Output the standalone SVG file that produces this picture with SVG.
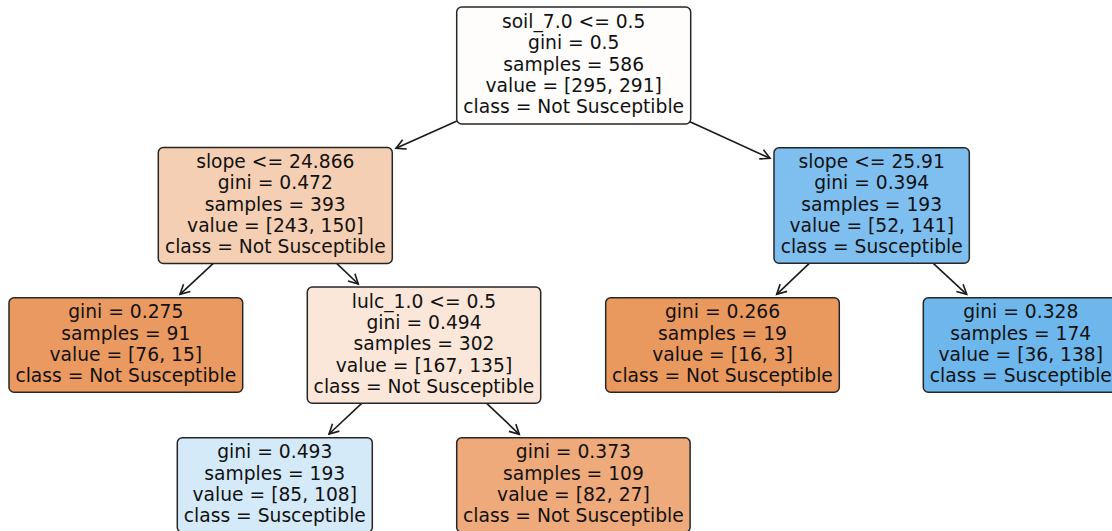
<svg xmlns="http://www.w3.org/2000/svg" width="1112" height="531" viewBox="0 0 1112 531">
<style>
.box{stroke:#262626;stroke-width:1.5}
text{font-family:"DejaVu Sans","Liberation Sans",sans-serif;font-size:18.7px;fill:#111111;text-anchor:middle}
.edge{stroke:#1a1a1a;stroke-width:1.6;fill:none}
</style>
<defs>
<marker id="ah" markerUnits="userSpaceOnUse" markerWidth="14" markerHeight="14" refX="11" refY="6" orient="auto" viewBox="0 0 14 12">
<path d="M1.5,1 L11,6 L1.5,11" fill="none" stroke="#1a1a1a" stroke-width="1.6"/>
</marker>
</defs>
<rect width="1112" height="531" fill="#ffffff"/>
<g id="connectors">
<line class="edge" x1="457" y1="121" x2="396" y2="148.3" marker-end="url(#ah)"/>
<line class="edge" x1="690" y1="121.7" x2="770" y2="158.3" marker-end="url(#ah)"/>
<line class="edge" x1="213.3" y1="263.3" x2="180" y2="294.3" marker-end="url(#ah)"/>
<line class="edge" x1="336.7" y1="263.3" x2="358.3" y2="284" marker-end="url(#ah)"/>
<line class="edge" x1="361.7" y1="403.3" x2="329" y2="434" marker-end="url(#ah)"/>
<line class="edge" x1="486.7" y1="403.3" x2="519.3" y2="434.3" marker-end="url(#ah)"/>
<line class="edge" x1="809.3" y1="263.3" x2="776.7" y2="294.3" marker-end="url(#ah)"/>
<line class="edge" x1="933.3" y1="263.3" x2="966.7" y2="294.3" marker-end="url(#ah)"/>
</g>
<g id="node-root">
<rect class="box" x="456.7" y="7" width="234" height="117" rx="5" fill="#fefdfc"/>
<text x="573.7" y="28">soil_7.0 &lt;= 0.5</text>
<text x="573.7" y="49.4">gini = 0.5</text>
<text x="573.7" y="70.7">samples = 586</text>
<text x="573.7" y="92.1">value = [295, 291]</text>
<text x="573.7" y="113.4">class = Not Susceptible</text>
</g>
<g id="node-slope-left">
<rect class="box" x="158.3" y="147.5" width="234" height="116" rx="5" fill="#f5cfb3"/>
<text x="275.3" y="168">slope &lt;= 24.866</text>
<text x="275.3" y="189.4">gini = 0.472</text>
<text x="275.3" y="210.7">samples = 393</text>
<text x="275.3" y="232.1">value = [243, 150]</text>
<text x="275.3" y="253.4">class = Not Susceptible</text>
</g>
<g id="node-slope-right">
<rect class="box" x="774" y="147.7" width="195.3" height="115.6" rx="5" fill="#7fbfef"/>
<text x="871.7" y="168">slope &lt;= 25.91</text>
<text x="871.7" y="189.4">gini = 0.394</text>
<text x="871.7" y="210.7">samples = 193</text>
<text x="871.7" y="232.1">value = [52, 141]</text>
<text x="871.7" y="253.4">class = Susceptible</text>
</g>
<g id="node-leaf-91">
<rect class="box" x="9" y="297.7" width="233.7" height="94.6" rx="5" fill="#ea9a60"/>
<text x="125.8" y="318.4">gini = 0.275</text>
<text x="125.8" y="339.7">samples = 91</text>
<text x="125.8" y="361.1">value = [76, 15]</text>
<text x="125.8" y="382.4">class = Not Susceptible</text>
</g>
<g id="node-lulc">
<rect class="box" x="307.3" y="287" width="233.4" height="116.3" rx="5" fill="#fae7d9"/>
<text x="424" y="307.5">lulc_1.0 &lt;= 0.5</text>
<text x="424" y="328.9">gini = 0.494</text>
<text x="424" y="350.2">samples = 302</text>
<text x="424" y="371.6">value = [167, 135]</text>
<text x="424" y="392.9">class = Not Susceptible</text>
</g>
<g id="node-leaf-19">
<rect class="box" x="605.7" y="297.7" width="233.6" height="94.6" rx="5" fill="#ea995e"/>
<text x="722.5" y="318.4">gini = 0.266</text>
<text x="722.5" y="339.7">samples = 19</text>
<text x="722.5" y="361.1">value = [16, 3]</text>
<text x="722.5" y="382.4">class = Not Susceptible</text>
</g>
<g id="node-leaf-174">
<rect class="box" x="923.3" y="297.7" width="195" height="94.6" rx="5" fill="#6db7ec"/>
<text x="1020.8" y="318.4">gini = 0.328</text>
<text x="1020.8" y="339.7">samples = 174</text>
<text x="1020.8" y="361.1">value = [36, 138]</text>
<text x="1020.8" y="382.4">class = Susceptible</text>
</g>
<g id="node-leaf-193">
<rect class="box" x="177.3" y="437.7" width="195" height="94.6" rx="5" fill="#d5eaf9"/>
<text x="274.8" y="458.4">gini = 0.493</text>
<text x="274.8" y="479.7">samples = 193</text>
<text x="274.8" y="501.1">value = [85, 108]</text>
<text x="274.8" y="522.4">class = Susceptible</text>
</g>
<g id="node-leaf-109">
<rect class="box" x="456.7" y="437.7" width="233.4" height="94.6" rx="5" fill="#eeaa7a"/>
<text x="573.4" y="458.4">gini = 0.373</text>
<text x="573.4" y="479.7">samples = 109</text>
<text x="573.4" y="501.1">value = [82, 27]</text>
<text x="573.4" y="522.4">class = Not Susceptible</text>
</g>
</svg>
